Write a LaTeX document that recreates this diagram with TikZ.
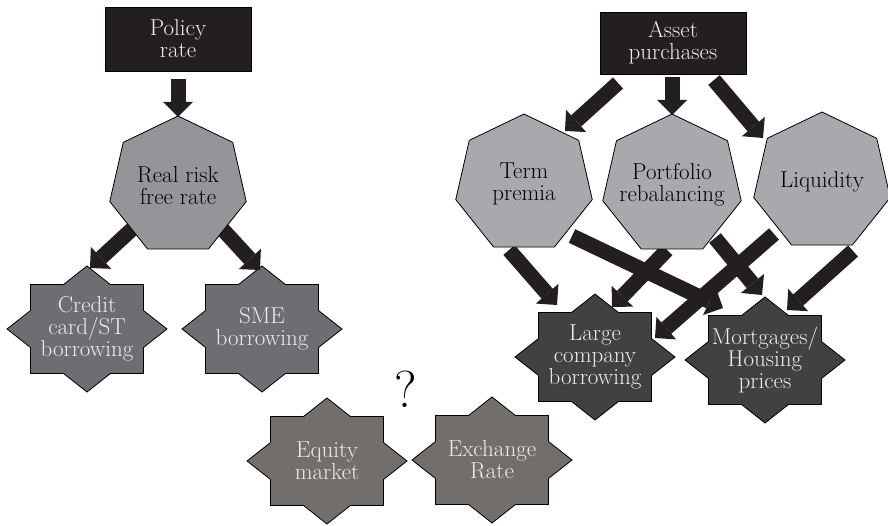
\documentclass[tikz,border=0pt]{standalone}
\usepackage{fontspec}
\usepackage{xcolor}
\usetikzlibrary{arrows.meta, shapes.geometric, calc, backgrounds}

\definecolor{inkblack}{HTML}{231F20}
\definecolor{paletext}{HTML}{EDEDEE}
\definecolor{midgrey}{HTML}{939598}
\definecolor{lightgrey}{HTML}{A7A9AC}
\definecolor{slategrey}{HTML}{6D6E71}
\definecolor{darkgrey}{HTML}{414042}
\definecolor{warmgrey}{HTML}{726E6C}

\tikzset{
    channels/.style={x=1pt, y=-1pt, font=\fontsize{23}{22}\selectfont},
    instrument/.style={draw, fill=inkblack, text=paletext, minimum width=146pt, minimum height=64pt, align=center, inner sep=0pt},
    % negative inner sep so that minimum size alone fixes the polygon
    heptagon/.style={regular polygon, regular polygon sides=7, minimum size=140pt, inner sep=-20pt, draw, line width=0.8pt, fill=#1, align=center},
    outcome/.style={align=center, inner sep=0pt, text=paletext},
    % fat block arrow: wide shaft, wide triangular head
    fat/.style={line width=15pt, inkblack, -{Triangle[length=15pt, width=30pt, line width=0pt]}},
}

% eight-pointed star round a node, stretched sideways
\newcommand{\burst}[2]{%
    \filldraw[fill=#2, draw=black, line width=0.8pt, shift={(#1)}]
        (0,-63) \foreach \k [evaluate=\k as \f using {isodd(\k) ? 0.765 : 1}] in {1,...,15} {
            -- ({\f*80*sin(22.5*\k)}, {-\f*63*cos(22.5*\k)})
        } -- cycle;
}

\begin{document}
\begin{tikzpicture}[channels]
    \useasboundingbox (0,0) rectangle (888,526);

    % policy tools
    \node[instrument] (policy) at (178,39) {Policy\\rate};
    \node[instrument, minimum height=62pt] (asset) at (673,43) {Asset\\purchases};

    % channels
    \node[heptagon=midgrey] (realrisk) at (178,186) {Real risk\\free rate};
    \node[heptagon=lightgrey] (term) at (524,184) {Term\\premia};
    \node[heptagon=lightgrey, minimum size=142pt] (portfolio) at (672,185) {Portfolio\\rebalancing};
    \node[heptagon=lightgrey] (liquidity) at (822,182) {Liquidity};

    % outcomes
    \node[outcome] (credit) at (87,329) {Credit\\card/ST\\borrowing};
    \node[outcome] (sme) at (262,329) {SME\\borrowing};
    \node[outcome] (large) at (595,357) {Large\\company\\borrowing};
    \node[outcome] (mortgages) at (765,360) {Mortgages/\\Housing\\prices};
    \node[outcome] (equity) at (327,461) {Equity\\market};
    \node[outcome] (exchange) at (492,460) {Exchange\\Rate};

    \node[font=\fontsize{52}{52}\selectfont] (query) at (406,389) {?};

    \begin{scope}[on background layer]
        \burst{credit}{slategrey}
        \burst{sme}{slategrey}
        \burst{large}{darkgrey}
        \burst{mortgages}{darkgrey}
        \burst{equity}{warmgrey}
        \burst{exchange}{warmgrey}

        \draw[fat] ($(policy)+(0,40)$) -- ($(realrisk)+(0,-69)$);
        \draw[fat] ($(realrisk)+(-36,34)$) -- ($(credit)+(3,-61)$);
        \draw[fat] ($(realrisk)+(36,34)$) -- ($(sme)+(-2,-59)$);

        \draw[fat] ($(asset)+(-55,40)$) -- ($(term)+(41,-53)$);
        \draw[fat] ($(asset)+(-1,34)$) -- ($(portfolio)+(0,-70)$);
        \draw[fat] ($(asset)+(41,37)$) -- ($(liquidity)+(-59,-44)$);

        \draw[fat] ($(term)+(-15,66)$) -- ($(large)+(-38,-52)$);
        \draw[fat] ($(term)+(48,52)$) -- ($(mortgages)+(-42,-52)$);
        \draw[fat] ($(portfolio)+(-5,65)$) -- ($(large)+(17,-50)$);
        \draw[fat] ($(portfolio)+(43,53)$) -- ($(mortgages)+(-3,-65)$);
        \draw[fat] ($(liquidity)+(-48,52)$) -- ($(large)+(60,-19)$);
        \draw[fat] ($(liquidity)+(31,69)$) -- ($(mortgages)+(22,-50)$);
    \end{scope}
\end{tikzpicture}
\end{document}
